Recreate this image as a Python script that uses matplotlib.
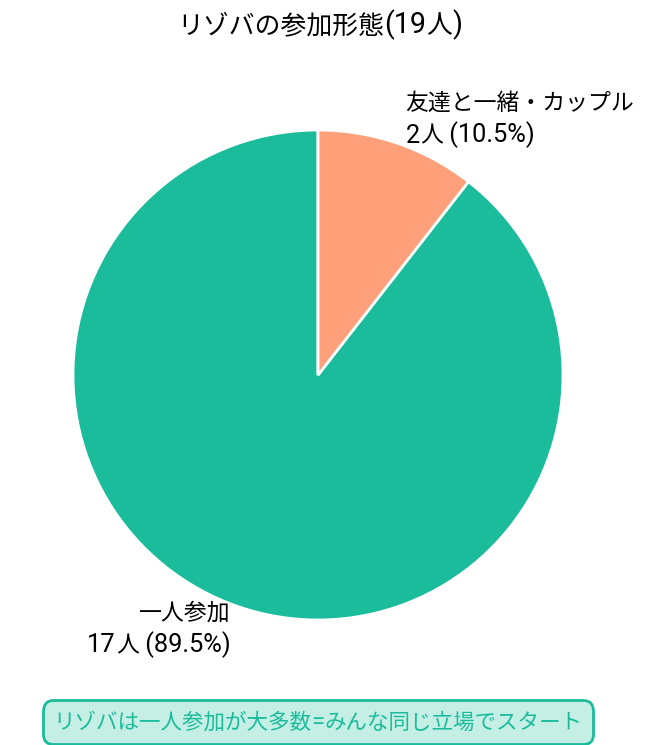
import matplotlib
matplotlib.use("Agg")
import matplotlib.pyplot as plt
from matplotlib.offsetbox import TextArea, HPacker, VPacker, AnnotationBbox

plt.rcParams['font.family'] = ['Noto Sans CJK JP', 'DejaVu Sans']

categories = ["一人参加", "友達と一緒・カップル"]
counts = [17, 2]
colors = ["#1abc9c", "#ffa07a"]
title = "リゾバの参加形態(19人)"
note = "リゾバは一人参加が大多数=みんな同じ立場でスタート"

total = sum(counts)
labels = [f"{c}\n{n}人 ({n / total * 100:.1f}%)" for c, n in zip(categories, counts)]

CJK_FAM = ['Noto Sans CJK JP', 'DejaVu Sans']
LAT_FAM = ['Roboto', 'DejaVu Sans']
LAT_SCALE = 1.11


def is_cjk(ch):
    return ord(ch) >= 0x2E80


def line_box(s, size, color):
    parts = []
    for ch in s:
        k = is_cjk(ch)
        if parts and parts[-1][0] == k:
            parts[-1][1] += ch
        else:
            parts.append([k, ch])
    kids = []
    for k, seg in parts:
        fam = CJK_FAM if k else LAT_FAM
        fs = size if k else size * LAT_SCALE
        kids.append(TextArea(seg, textprops=dict(family=fam, fontsize=fs, color=color)))
    return HPacker(children=kids, align="baseline", pad=0, sep=0)


def text_box(s, size, color, align):
    lines = [line_box(l, size, color) for l in s.split("\n")]
    if len(lines) == 1:
        return lines[0]
    return VPacker(children=lines, align=align, pad=0, sep=5)


W, H = 652, 745
fig = plt.figure(figsize=(W / 100, H / 100), dpi=100)
r_px = 245
cx, cy = 318, 375
span = 2.6
size = span * r_px
ax = fig.add_axes([(cx - size / 2) / W, (H - cy - size / 2) / H, size / W, size / H])
wedges, texts = ax.pie(counts, labels=labels, colors=colors, startangle=90, counterclock=True,
                       wedgeprops=dict(edgecolor="white", linewidth=2),
                       textprops=dict(fontsize=16.5, color="black"), labeldistance=1.1)
ax.set_xlim(-span / 2, span / 2)
ax.set_ylim(-span / 2, span / 2)
ax.set_aspect("equal")
ax.axis("off")

for t in texts:
    ha = t.get_ha()
    box = text_box(t.get_text(), 16.5, "black", "right" if ha == "right" else "left")
    ab = AnnotationBbox(box, t.get_position(), xycoords="data",
                        box_alignment=(1.0 if ha == "right" else 0.0, 0.5),
                        frameon=False, pad=0, annotation_clip=False)
    ax.add_artist(ab)
    t.set_visible(False)

tb = line_box(title, 18.6, "black")
fig.add_artist(AnnotationBbox(tb, (320 / W, 1 - 25 / H), xycoords="figure fraction",
                              box_alignment=(0.5, 0.5), frameon=False, pad=0,
                              annotation_clip=False))

nb = line_box(note, 15.5, "#1abc9c")
fig.add_artist(AnnotationBbox(nb, (318 / W, 1 - 722 / H), xycoords="figure fraction",
                              box_alignment=(0.5, 0.5), frameon=True, pad=0, fontsize=15.5,
                              annotation_clip=False,
                              bboxprops=dict(boxstyle="round,pad=0.5", facecolor="#c5efe5",
                                             edgecolor="#1abc9c", linewidth=2)))

fig.savefig("out.png", dpi=100)
